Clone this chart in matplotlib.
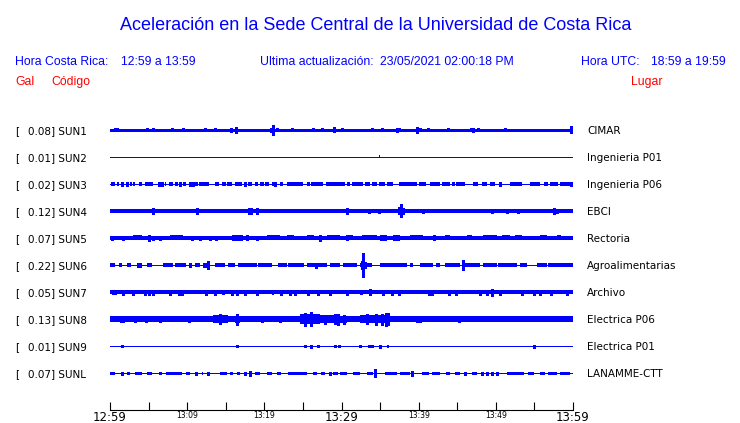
import matplotlib
matplotlib.use('Agg')
import matplotlib.pyplot as plt

# canvas size in pixels (saved at dpi 100)
W, H = 740, 423
BLUE = '#0000ff'
RED = '#ff0000'

# station table
codes = ['SUN1', 'SUN2', 'SUN3', 'SUN4', 'SUN5', 'SUN6', 'SUN7', 'SUN8', 'SUN9', 'SUNL']
gal = [0.08, 0.01, 0.02, 0.12, 0.07, 0.22, 0.05, 0.13, 0.01, 0.07]
places = ['CIMAR', 'Ingenieria P01', 'Ingenieria P06', 'EBCI', 'Rectoria',
          'Agroalimentarias', 'Archivo', 'Electrica P06', 'Electrica P01', 'LANAMME-CTT']

# background noise half-amplitude of each trace
base_amp = [0.7, 0.45, 0.45, 1.8, 1.9, 0.45, 1.8, 2.2, 0.45, 0.45]

# time axis (minutes after 12:59)
tick_min = list(range(0, 61, 5))
tick_labels = ['12:59', '', '13:09', '', '13:19', '', '13:29', '', '13:39', '', '13:49', '', '13:59']
big_labels = ['12:59', '13:29', '13:59']

# noisy stretches per trace: (start min, end min, half amplitude)
sun1_blocks = [(15.5, 16.0, 1.5), (46.6, 47.1, 1.5)]
sun2_blocks = [(34.8, 35.0, 1.5)]
sun3_blocks = [(0.1, 0.6, 1.7), (0.9, 1.2, 1.7), (2.6, 2.9, 1.7), (3.0, 3.3, 1.7), (3.7, 4.1, 1.7),
               (4.5, 5.6, 1.7), (7.1, 7.3, 1.7), (7.6, 8.2, 1.7), (8.4, 8.8, 1.7), (9.4, 9.9, 1.7),
               (11.0, 11.4, 1.7), (11.5, 12.8, 1.7), (13.6, 14.1, 1.7), (14.5, 15.0, 1.7),
               (15.1, 15.8, 1.7), (16.2, 17.1, 1.7), (17.9, 18.4, 1.7), (18.8, 19.2, 1.7),
               (19.4, 19.9, 1.7), (20.1, 20.6, 1.7), (21.0, 21.2, 1.7), (22.0, 22.4, 1.7),
               (22.9, 25.0, 1.7), (25.5, 25.9, 1.7), (26.1, 27.6, 1.7), (28.0, 30.5, 1.7),
               (30.7, 31.1, 1.7), (31.3, 32.8, 1.7), (33.1, 33.7, 1.7), (33.9, 34.6, 1.7),
               (34.8, 35.6, 1.7), (35.9, 36.7, 1.7), (37.4, 39.8, 1.7), (40.0, 41.0, 1.7),
               (41.5, 42.8, 1.7), (43.0, 44.1, 1.7), (44.3, 44.7, 1.7), (44.9, 46.0, 1.7),
               (47.1, 47.7, 1.7), (48.2, 48.8, 1.7), (49.3, 49.9, 1.7), (51.8, 53.4, 1.7),
               (54.4, 55.7, 1.7), (56.2, 56.8, 1.7), (57.0, 58.1, 1.7), (58.3, 59.6, 1.7)]
sun4_blocks = []
sun5_blocks = [(3.0, 4.1, 2.5), (7.8, 9.5, 2.5), (15.8, 17.3, 2.8), (20.3, 22.0, 2.5), (22.9, 23.8, 2.5),
               (25.5, 26.4, 2.5), (28.1, 29.8, 2.5), (30.7, 31.5, 2.5), (32.6, 34.6, 2.5),
               (35.0, 35.9, 3.0), (36.7, 37.6, 3.2), (38.9, 40.6, 2.5), (41.9, 42.3, 3.0),
               (43.4, 44.1, 2.5), (46.2, 46.9, 2.5), (48.4, 50.1, 2.5), (50.8, 51.8, 2.5),
               (52.5, 53.4, 2.5), (55.7, 56.6, 2.5), (57.9, 58.5, 2.5)]
sun6_blocks = [(0.0, 0.6, 1.7), (1.2, 1.5, 1.7), (2.2, 2.7, 1.7), (3.5, 4.1, 2.5), (4.8, 5.4, 1.7),
               (6.9, 8.2, 1.7), (8.4, 9.9, 1.7), (10.2, 10.6, 2.5), (11.0, 11.7, 1.7), (12.1, 13.0, 2.5),
               (13.6, 14.9, 1.7), (15.3, 16.2, 1.7), (16.6, 19.0, 1.7), (19.2, 21.0, 1.7),
               (21.8, 22.9, 1.7), (23.1, 25.1, 1.7), (25.5, 26.6, 1.7), (27.0, 28.1, 1.7),
               (28.5, 29.8, 1.7), (30.2, 32.0, 1.7), (32.4, 33.9, 1.7), (35.0, 38.5, 1.7),
               (38.9, 39.3, 1.7), (40.2, 41.9, 1.7), (42.3, 42.8, 1.7), (43.4, 45.4, 1.7),
               (46.0, 48.0, 1.7), (48.4, 50.1, 1.7), (50.3, 52.7, 1.7), (53.1, 54.0, 1.7),
               (55.3, 56.6, 1.7), (56.8, 60.0, 1.7)]
sun7_blocks = [(0.2, 0.9, 2.5), (14.5, 14.9, 2.5), (21.0, 21.2, 2.5), (32.4, 32.8, 2.5)]
sun8_blocks = [(1.3, 1.9, 3.5), (8.9, 9.3, 2.8), (12.1, 13.0, 3.0), (13.4, 15.3, 4.0), (16.2, 16.8, 3.5),
               (17.3, 17.9, 2.8), (24.6, 27.2, 5.0), (27.2, 29.8, 4.0), (29.8, 30.7, 3.5),
               (31.1, 32.4, 3.0), (32.4, 36.3, 4.0), (37.4, 39.1, 3.0), (39.7, 40.4, 3.5),
               (41.5, 42.3, 2.8), (43.6, 44.1, 2.8), (46.4, 46.9, 3.0), (48.6, 50.1, 3.0),
               (53.1, 54.0, 3.0), (54.9, 55.7, 3.0), (58.5, 59.6, 3.0)]
sun9_blocks = [(35.9, 36.1, 1.5)]
sunl_blocks = [(0.0, 0.6, 1.5), (2.2, 2.6, 1.5), (3.2, 4.1, 1.5), (4.8, 5.4, 1.5), (6.3, 6.7, 1.5),
               (7.3, 9.3, 1.5), (9.9, 10.4, 1.5), (11.9, 12.1, 1.5), (14.3, 15.1, 1.5), (15.6, 16.0, 1.5),
               (16.4, 16.8, 1.5), (18.8, 19.4, 1.5), (20.3, 21.0, 1.5), (21.6, 22.2, 1.5),
               (23.1, 25.5, 1.5), (26.3, 26.8, 1.5), (27.4, 27.9, 1.5), (28.9, 29.6, 1.5),
               (29.8, 30.7, 1.5), (31.5, 32.4, 1.5), (33.3, 34.1, 1.5), (35.6, 37.2, 1.5),
               (37.6, 38.9, 1.5), (40.4, 41.3, 1.5), (41.7, 42.8, 1.5), (43.6, 44.1, 1.5),
               (44.7, 45.4, 1.5), (46.9, 47.5, 1.5), (51.4, 53.6, 1.5), (54.2, 54.9, 1.5),
               (55.7, 56.4, 1.5), (56.8, 57.9, 1.5), (58.3, 59.6, 1.5)]

# single peaks per trace: (min, half amplitude)
sun1_spikes = [(0.65, 1.5), (0.9, 1.5), (2.2, 1.2), (4.8, 1.5), (5.6, 1.5), (6.1, 1.2), (6.4, 1.2),
               (8.0, 1.5), (9.5, 1.5), (9.6, 1.2), (12.3, 1.5), (12.7, 1.2), (13.6, 1.5), (13.9, 1.2),
               (15.7, 1.8), (16.3, 3.2), (19.7, 1.2), (20.9, 2.0), (21.1, 4.8), (21.6, 1.5),
               (23.6, 1.5), (24.5, 1.2), (26.3, 1.5), (27.5, 1.5), (29.0, 2.5), (30.1, 1.5),
               (32.4, 1.2), (34.0, 1.5), (34.2, 1.2), (35.3, 1.5), (35.6, 1.2), (37.2, 1.8),
               (37.4, 1.5), (38.5, 1.2), (39.8, 3.2), (40.2, 1.5), (41.2, 1.5), (42.8, 1.2),
               (43.8, 1.5), (47.0, 2.2), (47.7, 1.5), (50.3, 1.2), (51.2, 1.5), (52.2, 1.2),
               (52.4, 1.2), (54.2, 1.2), (55.1, 1.2), (59.8, 3.5)]
sun2_spikes = []
sun3_spikes = [(1.5, 1.7), (2.2, 1.7), (6.3, 1.7), (6.7, 1.7), (9.1, 1.7), (10.4, 1.7), (10.7, 1.7),
               (17.5, 1.7), (21.4, 1.7), (50.6, 1.7), (59.8, 1.7)]
sun4_spikes = [(5.6, 3.2), (11.3, 2.6), (18.0, 2.8), (18.3, 3.2), (19.1, 2.8), (30.7, 2.6), (33.5, 2.4),
               (34.8, 2.3), (37.5, 3.5), (37.7, 6.5), (38.0, 3.0), (40.6, 2.3), (49.5, 2.3),
               (51.4, 2.3), (52.9, 2.3), (57.5, 2.8), (57.9, 2.4)]
sun5_spikes = [(0.2, 2.3), (1.7, 2.3), (5.0, 3.0), (5.6, 2.3), (6.5, 2.3), (10.6, 2.3), (11.7, 2.3),
               (13.0, 2.3), (13.8, 2.3), (17.7, 2.5), (19.0, 2.3), (27.2, 3.0), (30.7, 2.5)]
sun6_spikes = [(12.7, 4.0), (26.7, 2.5), (32.7, 4.0), (32.8, 12.0), (33.0, 3.0), (45.8, 5.0)]
sun7_spikes = [(1.7, 2.5), (3.0, 2.5), (4.5, 2.5), (5.0, 2.5), (5.6, 2.5), (7.8, 2.5), (8.9, 2.5),
               (9.3, 2.5), (12.5, 2.5), (13.6, 2.5), (15.8, 2.5), (16.4, 2.5), (17.5, 2.5),
               (19.0, 2.5), (22.2, 2.5), (23.3, 2.5), (24.0, 2.5), (25.7, 2.5), (27.0, 2.5),
               (28.5, 2.5), (30.7, 2.5), (33.7, 2.8), (35.4, 2.5), (36.5, 2.5), (37.4, 2.5),
               (41.3, 2.5), (41.7, 2.5), (43.9, 2.5), (44.9, 2.5), (48.0, 2.5), (48.8, 2.5),
               (49.5, 3.5), (50.6, 2.5), (53.4, 2.5), (54.9, 2.5), (55.7, 2.5), (57.2, 2.5),
               (59.2, 2.5)]
sun8_spikes = [(3.2, 2.8), (4.7, 2.8), (6.5, 2.5), (10.2, 2.8), (14.3, 5.0), (16.5, 5.5), (19.7, 2.5),
               (22.0, 2.5), (25.3, 6.5), (26.0, 7.0), (27.9, 4.5), (29.2, 5.0), (29.6, 5.5),
               (30.3, 4.5), (33.3, 5.0), (34.5, 5.5), (35.3, 5.5), (35.8, 6.5), (36.0, 6.0),
               (45.2, 2.8)]
sun9_spikes = [(1.6, 1.3), (16.5, 1.2), (25.3, 1.2), (26.0, 1.5), (27.0, 1.2), (29.2, 1.2), (29.7, 1.3),
               (32.4, 1.2), (33.5, 1.3), (33.9, 1.3), (35.0, 1.5), (54.9, 1.5)]
sunl_spikes = [(1.5, 1.5), (11.2, 1.5), (12.7, 1.5), (17.5, 1.5), (18.2, 2.5), (28.5, 1.5),
               (34.4, 4.0), (39.2, 2.5), (46.0, 1.5), (48.2, 1.5), (48.8, 1.5), (49.5, 1.5),
               (50.1, 1.5)]

blocks = [sun1_blocks, sun2_blocks, sun3_blocks, sun4_blocks, sun5_blocks,
          sun6_blocks, sun7_blocks, sun8_blocks, sun9_blocks, sunl_blocks]
spikes = [sun1_spikes, sun2_spikes, sun3_spikes, sun4_spikes, sun5_spikes,
          sun6_spikes, sun7_spikes, sun8_spikes, sun9_spikes, sunl_spikes]

SPACING = 27  # vertical distance between traces


def fy(px):
    """pixel row -> figure fraction"""
    return 1 - px / H


fig = plt.figure(figsize=(W / 100, H / 100), dpi=100)

# header texts
hdr = dict(family='Liberation Sans', color=BLUE, va='baseline')
fig.text(120 / W, fy(30), 'Aceleración en la Sede Central de la Universidad de Costa Rica', fontsize=13, **hdr)
fig.text(15 / W, fy(65), 'Hora Costa Rica:', fontsize=8.8, **hdr)
fig.text(121 / W, fy(65), '12:59 a 13:59', fontsize=8.8, **hdr)
fig.text(260 / W, fy(65), 'Ultima actualización:', fontsize=8.8, **hdr)
fig.text(380 / W, fy(65), '23/05/2021 02:00:18 PM', fontsize=8.8, **hdr)
fig.text(581 / W, fy(65), 'Hora UTC:', fontsize=8.8, **hdr)
fig.text(651 / W, fy(65), '18:59 a 19:59', fontsize=8.8, **hdr)
red = dict(family='Liberation Sans', color=RED, va='baseline', fontsize=8.8)
fig.text(15 / W, fy(85), 'Gal', **red)
fig.text(51 / W, fy(85), 'Código', **red)
fig.text(631 / W, fy(85), 'Lugar', **red)

ax = fig.add_axes([110 / W, fy(410), 463 / W, 310 / H])
ax.set_xlim(0, 60)
ax.set_ylim(-280, 30)

for i in range(len(codes)):
    y0 = -SPACING * i
    # continuous noise band, width 2*base_amp pixels (1 px = 0.72 pt)
    ax.plot([0, 60], [y0, y0], color=BLUE, lw=max(2 * base_amp[i], 0.9) * 0.72,
            solid_capstyle='butt', antialiased=False)
    if blocks[i]:
        s, e, a = zip(*blocks[i])
        ax.bar(s, [2 * v for v in a], width=[ee - ss for ss, ee in zip(s, e)],
               bottom=[y0 - v for v in a], align='edge', color=BLUE, lw=0, antialiased=False)
    if spikes[i]:
        t, a = zip(*spikes[i])
        ax.vlines(t, [y0 - v for v in a], [y0 + v for v in a], color=BLUE, lw=0.8, antialiased=False)

    # station labels
    row = 130 + SPACING * i + 4
    fig.text(15 / W, fy(row), '[', fontsize=7.5, va='baseline')
    fig.text(28 / W, fy(row), f'{gal[i]:.2f}] {codes[i]}', fontsize=7.5, va='baseline')
    fig.text(587 / W, fy(row), places[i], fontsize=7.5, va='baseline')

# time axis at the bottom
for side in ['top', 'left', 'right']:
    ax.spines[side].set_visible(False)
ax.spines['bottom'].set_linewidth(0.8)
ax.set_yticks([])
ax.set_xticks(tick_min)
ax.set_xticklabels(tick_labels)
ax.tick_params(axis='x', direction='in', length=5.8, width=0.8, pad=0.5)
for lab in ax.get_xticklabels():
    lab.set_fontsize(8.5 if lab.get_text() in big_labels else 5.5)
ax.patch.set_visible(False)

fig.savefig('out.png', dpi=100)
plt.close('all')
